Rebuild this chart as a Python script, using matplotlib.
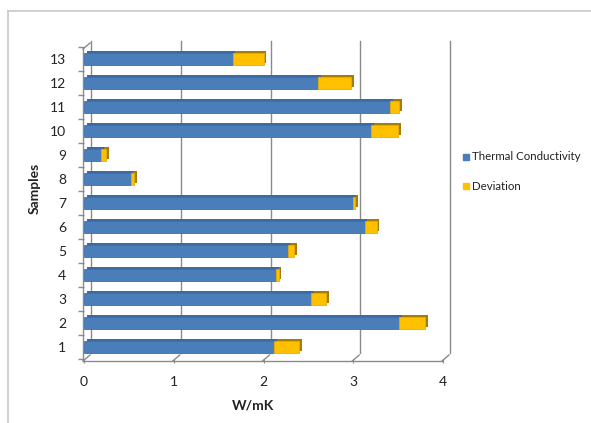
import matplotlib
matplotlib.use("Agg")
import matplotlib.pyplot as plt
from matplotlib.transforms import Affine2D
from matplotlib.patches import Rectangle
from matplotlib.lines import Line2D

# ---- data ----
samples = ["1", "2", "3", "4", "5", "6", "7", "8", "9", "10", "11", "12", "13"]
thermal_conductivity = [2.12, 3.51, 2.53, 2.14, 2.27, 3.13, 3.00, 0.52, 0.19, 3.20, 3.41, 2.61, 1.66]
deviation = [0.28, 0.29, 0.17, 0.03, 0.07, 0.13, 0.02, 0.04, 0.06, 0.30, 0.10, 0.37, 0.34]
x_ticks = [0, 1, 2, 3, 4]

plt.rcParams["font.family"] = ["Lato", "DejaVu Sans"]

W, H = 591, 423
fig = plt.figure(figsize=(W / 100, H / 100), dpi=100)

def px_rect(left, top, right, bottom):
    return [left / W, 1 - bottom / H, (right - left) / W, (bottom - top) / H]

ax = fig.add_axes(px_rect(84, 47, 443, 359))
ax.set_xlim(0, 4)
ax.set_ylim(0.5, len(samples) + 0.5)
ax.set_facecolor("none")
for s in ax.spines.values():
    s.set_visible(False)

wall = "#8a8a8a"
wall_dx, wall_dy = 7, 6        # depth of the back wall in pixels
mixed_back = ax.get_xaxis_transform() + Affine2D().translate(wall_dx, wall_dy)
front = ax.transAxes + Affine2D().translate(-1, -2)

def edge(xs, ys, transform):
    ax.add_line(Line2D(xs, ys, transform=transform, color=wall, lw=1.0,
                       zorder=0, clip_on=False))

# back wall gridlines and floor diagonals
for xv in x_ticks:
    edge([xv, xv], [0, 1], mixed_back)
    p0 = ax.transData.transform((xv, 0.5))
    edge([p0[0] - 1, p0[0] - 1 + wall_dx], [p0[1] - 2, p0[1] - 2 + wall_dy], None)
# front floor edge and front edge of the side wall
edge([0, 1], [0, 0], front)
edge([0, 0], [0, 1], front)
ptop = ax.transAxes.transform((0, 1))
edge([ptop[0] - 1, ptop[0] - 1 + wall_dx], [ptop[1] - 2, ptop[1] - 2 + wall_dy], None)

# bars with a small extruded depth
y = list(range(1, len(samples) + 1))
bar_h = 0.46
depth = Affine2D().translate(2.5, 2)
tc_color, tc_dark = "#4a7ebb", "#3c6aa3"
dv_color, dv_dark = "#ffc000", "#a87c00"

ax.barh(y, thermal_conductivity, height=bar_h, color=tc_dark,
        transform=ax.transData + depth, zorder=2)
ax.barh(y, deviation, left=thermal_conductivity, height=bar_h, color=dv_dark,
        transform=ax.transData + depth, zorder=2)
ax.barh(y, thermal_conductivity, height=bar_h, color=tc_color,
        edgecolor="#3f70ad", linewidth=0.6, zorder=3)
ax.barh(y, deviation, left=thermal_conductivity, height=bar_h, color=dv_color,
        edgecolor="#e8ad00", linewidth=0.6, zorder=3)

# y axis: labels at categories, ticks at boundaries
ax.set_yticks(y)
ax.set_yticklabels(samples, fontsize=10)
ax.set_yticks([v + 0.5 for v in range(0, len(samples) + 1)], minor=True)
ax.tick_params(axis="y", which="major", length=0, pad=13, labelcolor="#222222")
ax.tick_params(axis="y", which="minor", length=4, color=wall, width=1.0)

ax.set_xticks(x_ticks)
ax.set_xticklabels([str(v) for v in x_ticks], fontsize=10)
ax.tick_params(axis="x", length=3, color=wall, pad=9, labelcolor="#222222")

fig.text(253 / W, 1 - 405 / H, "W/mK", ha="center", va="center",
         fontsize=10, fontweight="bold", color="#222222")
fig.text(35 / W, 1 - 188 / H, "Samples", ha="center", va="center", rotation=90,
         fontsize=10, fontweight="bold", color="#222222")

# legend
for ly, col, txt in [(157, tc_color, "Thermal Conductivity"), (186, dv_color, "Deviation")]:
    fig.patches.append(Rectangle((463 / W, 1 - (ly + 3) / H), 6 / W, 6 / H,
                                 transform=fig.transFigure, color=col))
    fig.text(472 / W, 1 - ly / H, txt, ha="left", va="center", fontsize=8.3, color="#222222")

# outer chart border
fig.add_artist(Line2D([8 / W, 8 / W], [0, 1 - 11 / H], transform=fig.transFigure,
                      color="#c8c8c8", lw=1.2))
fig.add_artist(Line2D([8 / W, 1], [1 - 11 / H, 1 - 11 / H], transform=fig.transFigure,
                      color="#c8c8c8", lw=1.2))

fig.savefig("out.png", dpi=100)
